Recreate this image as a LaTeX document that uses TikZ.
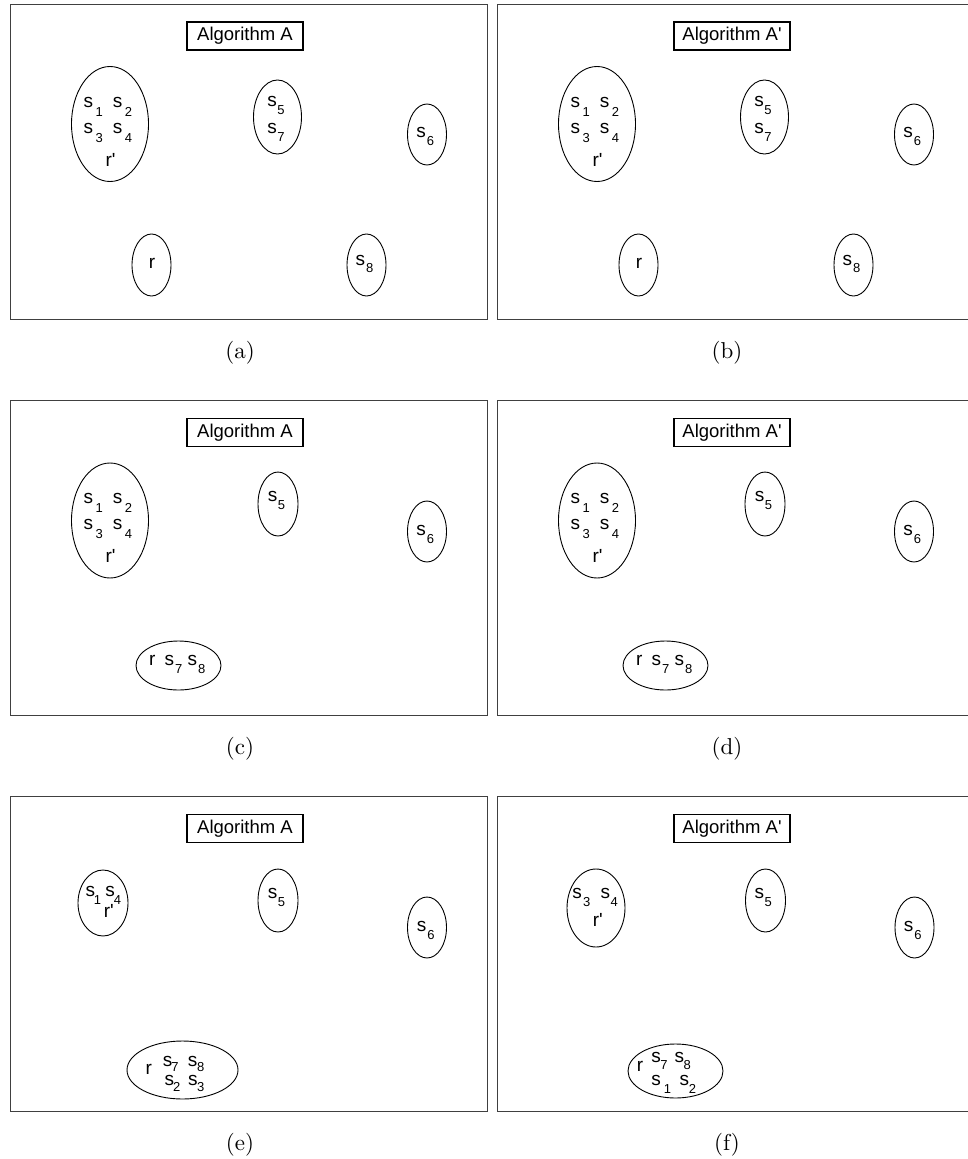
\documentclass[tikz,border=0pt]{standalone}
\usepackage{fontspec}
\newfontfamily\arial[Ligatures=TeXOff]{Liberation Sans}
\newfontfamily\capfont[Extension=.otf]{lmroman10-regular}
\usetikzlibrary{shapes.geometric}
\newdimen\sdrop \sdrop=8pt
\newcommand\ssub[2][1pt]{s\kern#1\raisebox{-\sdrop}{\fontsize{13}{13}\selectfont #2}}
\tikzset{
  panelbox/.style={draw=black!75, line width=0.9pt, inner sep=0pt, anchor=north west,
                minimum width=477pt, minimum height=315pt},
  titlebox/.style={draw, line width=1.5pt, minimum width=116pt, minimum height=28pt,
                inner sep=0pt, font=\arial\fontsize{18.5}{20}\selectfont},
  grp/.style={ellipse, draw, line width=0.9pt, inner sep=0pt},
  sz/.style 2 args={minimum width=#1, minimum height=#2},
  lbl/.style={inner sep=0pt, anchor=base west, font=\arial\fontsize{19}{20}\selectfont},
  captxt/.style={inner sep=0pt, font=\capfont\fontsize{23}{27}\selectfont},
}
\begin{document}
\begin{tikzpicture}[x=1pt,y=-1pt]
\useasboundingbox (0,0) rectangle (967,1159);

% ---------- panels (a) and (b)
\foreach \dx/\p/\t in {0/a/{Algorithm A}, 487/b/{Algorithm A'}}{
  \begin{scope}[shift={(\dx,0)}]
    \node[panelbox] (\p-frame) at (10,4) {};
    \node[titlebox] (\p-title) at (245,36) {\t};
    \node[grp, sz={77pt}{115pt}] (\p-big) at (110,124) {};
    \node[lbl] (\p-big1) at (83.4,107.3) {\sdrop=9pt\ssub[2.5pt]{1}\hspace{10.1pt}\ssub[2.5pt]{2}};
    \node[lbl] (\p-big2) at (83.4,133.3) {\sdrop=9pt\ssub[2.5pt]{3}\hspace{10.1pt}\ssub[2.5pt]{4}};
    \node[lbl] (\p-big3) at (105.4,166.7) {r'};
    \node[grp, sz={48pt}{74pt}] (\p-g57) at (277.5,117) {};
    \node[lbl] (\p-g57a) at (267.1,106) {\ssub[0.5pt]{5}};
    \node[lbl] (\p-g57b) at (267.1,133.3) {\ssub[0.5pt]{7}};
    \node[grp, sz={39pt}{61pt}] (\p-g6) at (427,134.5) {};
    \node[lbl] (\p-g6t) at (416.1,137.3) {\ssub{6}};
    \node[grp, sz={39pt}{62pt}] (\p-gr) at (151.5,265) {};
    \node[lbl] (\p-grt) at (148.7,268.3) {r};
    \node[grp, sz={39pt}{62pt}] (\p-g8) at (366.5,265) {};
    \node[lbl] (\p-g8t) at (355.4,265) {\sdrop=7.7pt\ssub{8}};
    \node[captxt] (\p-cap) at (240,353) {(\p)};
  \end{scope}
}

% ---------- panels (c) and (d)
\foreach \dx/\p/\t in {0/c/{Algorithm A}, 487/d/{Algorithm A'}}{
  \begin{scope}[shift={(\dx,0)}]
    \node[panelbox] (\p-frame) at (10,400) {};
    \node[titlebox] (\p-title) at (245,432.5) {\t};
    \node[grp, sz={77pt}{115pt}] (\p-big) at (110,520.5) {};
    \node[lbl] (\p-big1) at (83.4,503.3) {\sdrop=9pt\ssub[2.5pt]{1}\hspace{10.1pt}\ssub[2.5pt]{2}};
    \node[lbl] (\p-big2) at (83.4,529.3) {\sdrop=9pt\ssub[2.5pt]{3}\hspace{10.1pt}\ssub[2.5pt]{4}};
    \node[lbl] (\p-big3) at (105.4,562.7) {r'};
    \node[grp, sz={40pt}{64pt}] (\p-g5) at (278,504) {};
    \node[lbl] (\p-g5t) at (267.7,501.7) {\ssub[0.5pt]{5}};
    \node[grp, sz={39pt}{61pt}] (\p-g6) at (427,531.5) {};
    \node[lbl] (\p-g6t) at (416.1,535) {\ssub{6}};
    \node[grp, sz={85pt}{49pt}] (\p-gr) at (178.5,665.5) {};
    \node[lbl] (\p-grt) at (149,665.5) {r\hspace{9.1pt}\ssub{7}\hspace{5.3pt}\ssub{8}};
    \node[captxt] (\p-cap) at (240,749) {(\p)};
  \end{scope}
}

% ---------- panel (e)
\node[panelbox] (e-frame) at (10,796) {};
\node[titlebox] (e-title) at (245,828.5) {Algorithm A};
\node[grp, sz={50pt}{66pt}] (e-g14) at (103,903) {};
\node[lbl] (e-g14a) at (85.4,896.7) {\ssub[-1.3pt]{1}\hspace{4.3pt}\ssub[-0.9pt]{4}};
\node[lbl] (e-g14b) at (103.7,917.3) {r'};
\node[grp, sz={40pt}{63pt}] (e-g5) at (278,900.5) {};
\node[lbl] (e-g5t) at (267.7,898.3) {\ssub[0.5pt]{5}};
\node[grp, sz={39pt}{61pt}] (e-g6) at (427,927.5) {};
\node[lbl] (e-g6t) at (416.7,931.7) {\ssub{6}};
\node[grp, sz={111pt}{58pt}] (e-gr) at (182.5,1070) {};
\node[lbl] (e-grr) at (145.4,1074) {r};
\node[lbl] (e-gr1) at (162.7,1066.7) {\sdrop=5pt\ssub[-1.1pt]{7}\hspace{9.4pt}\ssub[-0.4pt]{8}};
\node[lbl] (e-gr2) at (164.4,1085) {\sdrop=6.5pt\ssub[-1pt]{2}\hspace{7.7pt}\ssub[-0.5pt]{3}};
\node[captxt] (e-cap) at (240,1145) {(e)};

% ---------- panel (f)
\node[panelbox] (f-frame) at (497,796) {};
\node[titlebox] (f-title) at (732,828.5) {Algorithm A'};
\node[grp, sz={58pt}{78pt}] (f-g34) at (596,908) {};
\node[lbl] (f-g34a) at (572.1,898.3) {\ssub[1.2pt]{3}\hspace{10.4pt}\ssub[0.5pt]{4}};
\node[lbl] (f-g34b) at (592.7,926.7) {r'};
\node[grp, sz={40pt}{63pt}] (f-g5) at (765.5,900.5) {};
\node[lbl] (f-g5t) at (754.4,898.3) {\ssub[0.5pt]{5}};
\node[grp, sz={39pt}{61pt}] (f-g6) at (914.5,927.5) {};
\node[lbl] (f-g6t) at (903.7,931.7) {\ssub{6}};
\node[grp, sz={95pt}{54pt}] (f-gr) at (675.5,1071) {};
\node[lbl] (f-grr) at (636.7,1071.7) {r};
\node[lbl] (f-gr1) at (651.1,1062.3) {\sdrop=7pt\ssub[-0.5pt]{7}\hspace{7.1pt}\ssub[-0.4pt]{8}};
\node[lbl] (f-gr2) at (651.1,1085.7) {\ssub[3pt]{1}\hspace{8.6pt}\ssub[-0.3pt]{2}};
\node[captxt] (f-cap) at (727,1145) {(f)};
\end{tikzpicture}
\end{document}
